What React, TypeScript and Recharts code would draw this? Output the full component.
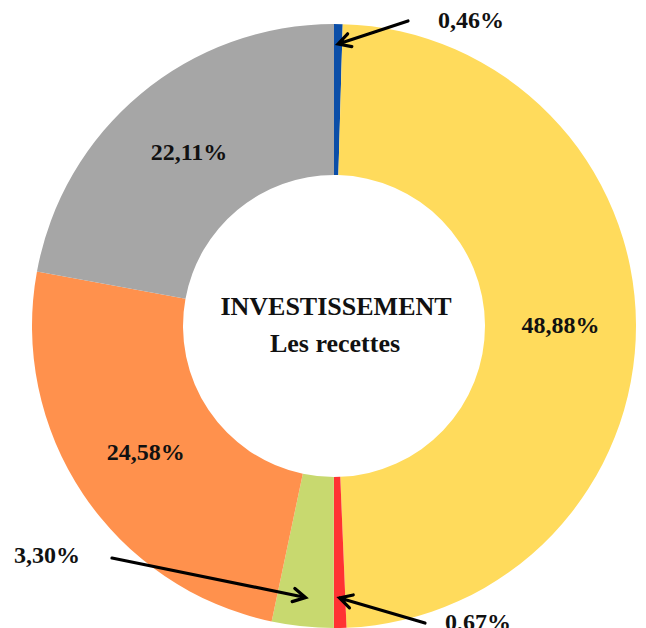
import { Cell, Label, Pie, PieChart } from 'recharts'

const categories = ['Bleu', 'Jaune', 'Rouge', 'Vert', 'Orange', 'Gris']
const shares = [0.46, 48.88, 0.67, 3.3, 24.58, 22.11]
const colors = ['#0B4EA8', '#FFDB5C', '#FF3333', '#C8D96F', '#FF914D', '#A6A6A6']
const titleLines = ['INVESTISSEMENT', 'Les recettes']

// callouts for the thin slices: text and arrow tail, relative to the pie centre
const callouts: Record<number, { tx: number; ty: number; ax: number; ay: number; tipR: number }> = {
  0: { tx: 137, ty: -306, ax: 74, ay: -305, tipR: 282 },
  2: { tx: 144, ty: 296, ax: 91, ay: 297, tipR: 272 },
  3: { tx: -287, ty: 229, ax: -222, ay: 232, tipR: 273 },
}

const data = categories.map((name, i) => ({ name, value: shares[i] }))

const CX = 334
const CY = 326
const font = '"Liberation Serif", "DejaVu Serif", serif'
const RAD = Math.PI / 180

const fmt = (v: number) => v.toFixed(2).replace('.', ',') + '%'

function renderLabel(props: any) {
  const { cx, cy, midAngle, innerRadius, outerRadius, value, index } = props
  const c = callouts[index]
  if (!c) {
    const r = (innerRadius + outerRadius) / 2
    const x = cx + r * Math.cos(-midAngle * RAD)
    const y = cy + r * Math.sin(-midAngle * RAD)
    return (
      <text x={x} y={y} textAnchor="middle" dominantBaseline="central"
        fontFamily={font} fontWeight="bold" fontSize={24} fill="#111">
        {fmt(value)}
      </text>
    )
  }
  const tipX = cx + c.tipR * Math.cos(-midAngle * RAD)
  const tipY = cy + c.tipR * Math.sin(-midAngle * RAD)
  const x0 = cx + c.ax
  const y0 = cy + c.ay
  const ang = Math.atan2(tipY - y0, tipX - x0)
  const h = 14
  const w = 0.5
  const h1x = tipX - h * Math.cos(ang - w)
  const h1y = tipY - h * Math.sin(ang - w)
  const h2x = tipX - h * Math.cos(ang + w)
  const h2y = tipY - h * Math.sin(ang + w)
  return (
    <g>
      <path
        d={`M${x0},${y0} L${tipX},${tipY} M${h1x},${h1y} L${tipX},${tipY} L${h2x},${h2y}`}
        stroke="#000" strokeWidth={3.2} fill="none" strokeLinecap="round" strokeLinejoin="miter"
      />
      <text x={cx + c.tx} y={cy + c.ty} textAnchor="middle" dominantBaseline="central"
        fontFamily={font} fontWeight="bold" fontSize={24} fill="#111">
        {fmt(value)}
      </text>
    </g>
  )
}

function CenterTitle(props: any) {
  const vb = props.viewBox || {}
  const cx = typeof vb.cx === 'number' ? vb.cx : CX
  const cy = typeof vb.cy === 'number' ? vb.cy : CY
  return (
    <g fontFamily={font} fontWeight="bold" fontSize={26} fill="#111">
      <text x={cx + 2} y={cy - 20} textAnchor="middle" dominantBaseline="central">{titleLines[0]}</text>
      <text x={cx + 1} y={cy + 17} textAnchor="middle" dominantBaseline="central">{titleLines[1]}</text>
    </g>
  )
}

export default function App() {
  return (
    <div style={{ position: 'fixed', left: 0, top: 0, background: '#fff' }}>
      <PieChart width={646} height={628} margin={{ top: 0, right: 0, bottom: 0, left: 0 }}>
        <Pie
          data={data}
          dataKey="value"
          nameKey="name"
          cx={CX}
          cy={CY}
          innerRadius={151}
          outerRadius={302}
          startAngle={90}
          endAngle={-270}
          stroke="none"
          label={renderLabel}
          labelLine={false}
          isAnimationActive={false}
        >
          {data.map((d, i) => (
            <Cell key={d.name} fill={colors[i]} />
          ))}
          <Label position="center" content={CenterTitle} />
        </Pie>
      </PieChart>
    </div>
  )
}
